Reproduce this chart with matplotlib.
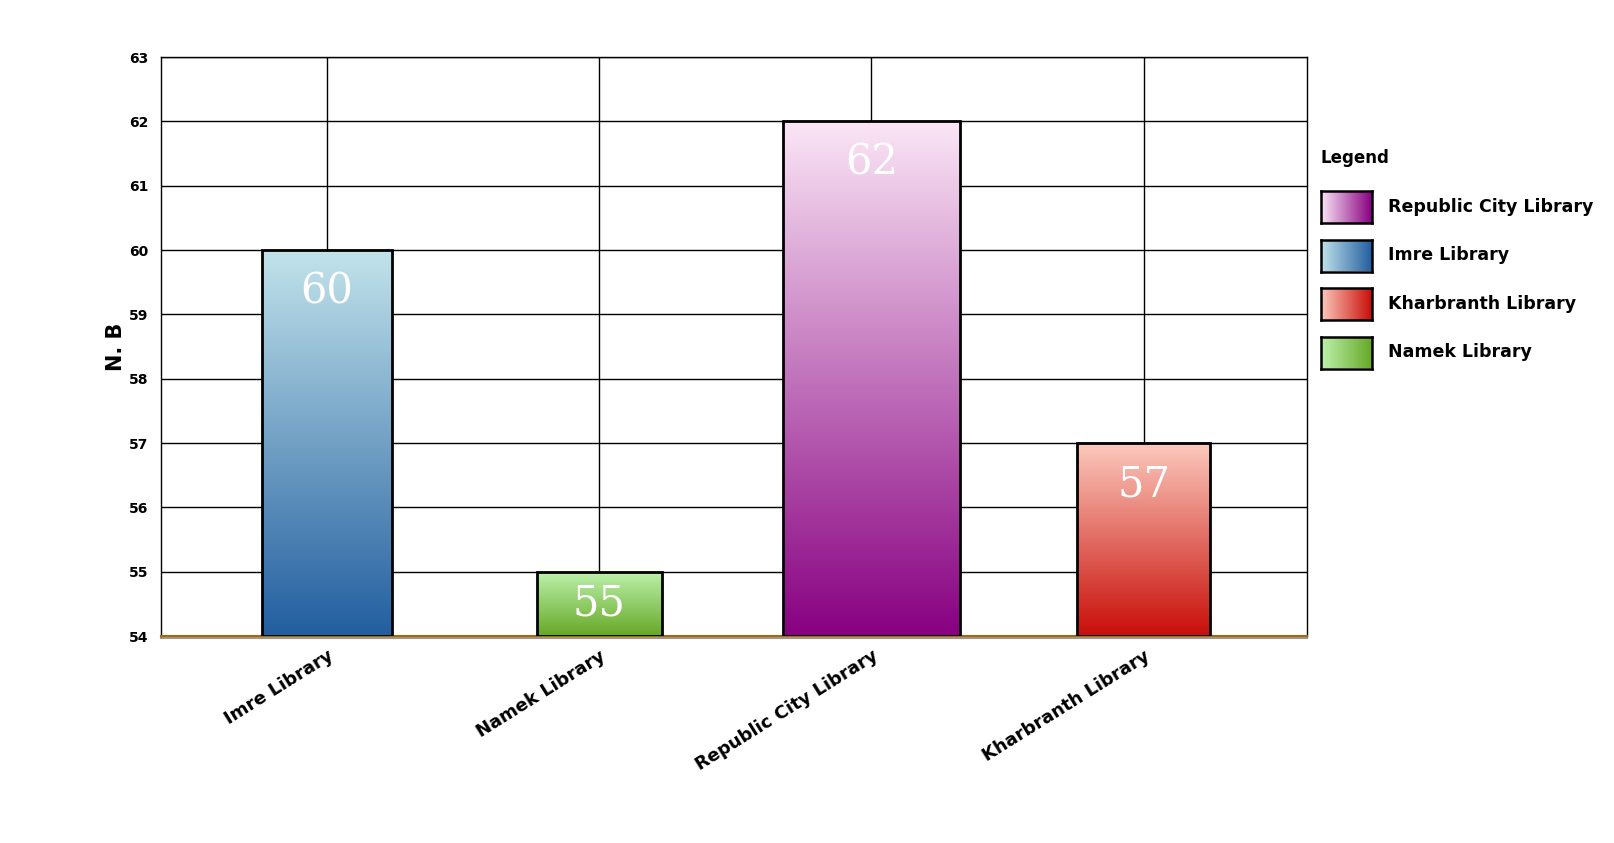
import matplotlib
matplotlib.use("Agg")
import matplotlib.pyplot as plt
import matplotlib.transforms as mtransforms
import numpy as np
from matplotlib.colors import LinearSegmentedColormap

# data
libraries = ["Imre Library", "Namek Library", "Republic City Library", "Kharbranth Library"]
values = [60, 55, 62, 57]
legend_order = ["Republic City Library", "Imre Library", "Kharbranth Library", "Namek Library"]
y_label = "N. B"
y_ticks = [54, 55, 56, 57, 58, 59, 60, 61, 62, 63]

# styles
bar_widths = [0.48, 0.46, 0.65, 0.49]
colors = {
    "Imre Library": ("#c2e3eb", "#225e9f"),
    "Namek Library": ("#bdf2ad", "#66a826"),
    "Republic City Library": ("#fbe6f6", "#870081"),
    "Kharbranth Library": ("#fcc9bd", "#c80e08"),
}
bold = dict(family="DejaVu Sans", weight="bold")

fig = plt.figure(figsize=(16.15, 8.43), dpi=100)
ax = fig.add_axes([161 / 1615, 1 - 636 / 843, (1307 - 161) / 1615, (636 - 57) / 843])

ymin, ymax = y_ticks[0], y_ticks[-1]
grad = np.linspace(0, 1, 256).reshape(-1, 1)
x = np.arange(len(libraries))
for i, (name, v) in enumerate(zip(libraries, values)):
    cmap = LinearSegmentedColormap.from_list(name, colors[name])
    w = bar_widths[i]
    ax.imshow(grad, cmap=cmap, aspect="auto", extent=[x[i] - w / 2, x[i] + w / 2, ymin, v],
              zorder=2, interpolation="bilinear")
    ax.bar(x[i], v - ymin, bottom=ymin, width=w, facecolor="none", edgecolor="black",
           linewidth=2, zorder=3)
    ly = max(v - 0.64, (v + ymin) / 2)
    ax.text(x[i], ly, str(v), ha="center", va="center", color="white",
            fontsize=30, family="DejaVu Serif", zorder=4)

ax.set_xlim(-0.61, 3.6)
ax.set_ylim(ymin, ymax)
ax.set_yticks(y_ticks)
ax.set_yticklabels([str(t) for t in y_ticks], fontsize=10, **bold)
ax.set_xticks(x)
ax.set_xticklabels(libraries, rotation=32, ha="right", rotation_mode="anchor", fontsize=13, **bold)
ax.tick_params(length=0, pad=9)
ax.tick_params(axis="x", pad=8)
ax.set_axisbelow(True)
ax.grid(True, color="black", linewidth=1)
ax.set_ylabel(y_label, fontsize=15, labelpad=2, **bold)
for s in ["left", "top", "right"]:
    ax.spines[s].set_linewidth(1)
ax.spines["bottom"].set_color("#a86a00")
ax.spines["bottom"].set_linewidth(1.5)
shadow = mtransforms.offset_copy(ax.transAxes, fig=fig, x=0, y=-2, units="dots")
ax.plot([0, 1], [0, 0], color="#999999", linewidth=1.5, transform=shadow, clip_on=False, zorder=1)

# legend
W, H = 1615, 843
fig.text(1321 / W, 1 - 158 / H, "Legend", fontsize=12, va="center", **bold)
for j, name in enumerate(legend_order):
    top = 191 + j * 48.5
    lax = fig.add_axes([1321 / W, 1 - (top + 32) / H, 51 / W, 32 / H])
    cmap = LinearSegmentedColormap.from_list(name + "_l", colors[name])
    lax.imshow(grad.T, cmap=cmap, aspect="auto", interpolation="bilinear")
    lax.set_xticks([])
    lax.set_yticks([])
    for s in lax.spines.values():
        s.set_linewidth(1.8)
    fig.text(1388 / W, 1 - (top + 16) / H, name, fontsize=12.5, va="center", **bold)

fig.savefig("out.png", dpi=100, facecolor="white")
